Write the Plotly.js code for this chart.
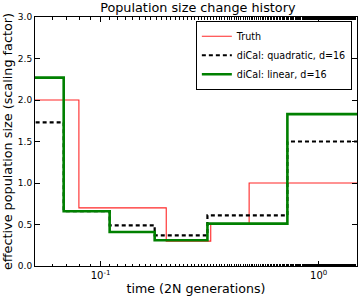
<!DOCTYPE html>
<html><head><meta charset="utf-8">
<script src="https://cdn.plot.ly/plotly-3.0.1.min.js"></script>
<style>html,body{margin:0;padding:0;background:#fff}#chart{width:363px;height:298px}</style>
</head><body><div id="chart"></div>
<script>
// Step boundaries (time, 2N generations) and levels
const truthX = [0.03, 0.0795, 0.2, 0.32, 0.48, 3];
const truthY = [2.0, 0.70, 0.30, 0.50, 1.00, 1.00];
const quadX = [0.03, 0.0677, 0.110, 0.177, 0.309, 0.719, 3];
const quadY = [1.73, 0.66, 0.49, 0.37, 0.61, 1.50, 1.50];
const linX = [0.03, 0.0677, 0.110, 0.177, 0.309, 0.719, 3];
const linY = [2.27, 0.66, 0.41, 0.31, 0.51, 1.83, 1.83];
const seriesNames = ['Truth', 'diCal: quadratic, d=16', 'diCal: linear, d=16'];
const yTicks = [0, 0.5, 1.0, 1.5, 2.0, 2.5, 3.0];
const xTickVals = [0.1, 1];
const xTickText = ['10<sup>-1</sup>', '10<sup>0</sup>'];

const font = 'DejaVu Sans, sans-serif';
const traces = [
  {x: truthX, y: truthY, name: seriesNames[0], mode: 'lines', line: {shape: 'hv', color: 'rgba(255,0,0,0.85)', width: 1.1}},
  {x: quadX, y: quadY, name: seriesNames[1], mode: 'lines', line: {shape: 'hv', color: 'black', width: 2.2, dash: '4px,3px'}},
  {x: linX, y: linY, name: seriesNames[2], mode: 'lines', line: {shape: 'hv', color: '#008000', width: 2.6}}
];
const layout = {
  width: 363, height: 298,
  margin: {l: 35, r: 6, t: 17, b: 32},
  paper_bgcolor: '#fff', plot_bgcolor: '#fff',
  font: {family: font, color: '#000', size: 9},
  title: {text: 'Population size change history', font: {size: 12.8, family: font}, x: 0.545, xanchor: 'center', y: 0.99, yanchor: 'top'},
  showlegend: true,
  legend: {x: 0.984, xanchor: 'right', y: 0.985, yanchor: 'top', bordercolor: '#000', borderwidth: 1, bgcolor: '#fff', font: {size: 9.6, family: font}, traceorder: 'normal', tracegroupgap: 0, itemwidth: 30},
  xaxis: {
    type: 'log', range: [Math.log10(0.05), Math.log10(1.5)],
    tickvals: xTickVals, ticktext: xTickText, ticks: 'inside', ticklen: 5, tickcolor: '#000',
    showgrid: false, zeroline: false, showline: true, linecolor: '#000', linewidth: 1, mirror: 'ticks',
    tickfont: {size: 10, family: font},
    minor: {ticks: 'inside', ticklen: 2.5, tickcolor: '#000', showgrid: false},
    title: {text: 'time (2N generations)', font: {size: 12.6, family: font}, standoff: 4}
  },
  yaxis: {
    range: [0, 3], tickvals: yTicks, tickformat: '.1f', ticks: 'inside', ticklen: 5, tickcolor: '#000',
    showgrid: false, zeroline: false, showline: true, linecolor: '#000', linewidth: 1, mirror: 'ticks',
    tickfont: {size: 9, family: font},
    title: {text: 'effective population size (scaling factor)', font: {size: 12.8, family: font}, standoff: 6}
  }
};
Plotly.newPlot('chart', traces, layout, {displayModeBar: false, staticPlot: true});
</script></body></html>
